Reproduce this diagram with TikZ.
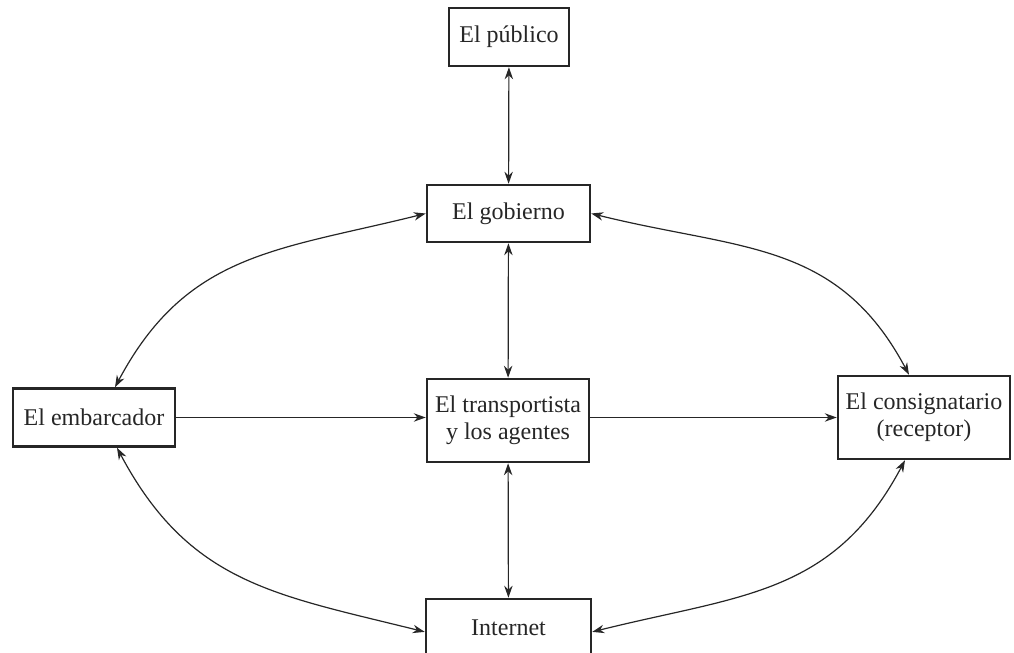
\documentclass[tikz,border=0pt]{standalone}
\usepackage{fontspec}
\setmainfont{Liberation Serif}
\usetikzlibrary{arrows.meta}
\usepackage{xcolor}

\begin{document}
\begin{tikzpicture}[x=0.5pt, y=0.5pt,
    box/.style={draw=black!85, line width=1.25pt, inner sep=0pt, align=center,
      font=\fontsize{12}{13.5}\selectfont, text=black!85},
    link/.style={draw=black!85, line width=0.6pt, -{Stealth[length=6pt, width=4.2pt]}},
    both/.style={link, {Stealth[length=6pt, width=4.2pt]}-{Stealth[length=6pt, width=4.2pt]}}]
  \useasboundingbox (0,0) rectangle (1014,653);

  % boxes
  \node[box, minimum width=60pt, minimum height=29pt] (pub) at (509,616) {El público};
  \node[box, minimum width=81.5pt, minimum height=28.5pt] (gob) at (508.5,439.5) {El gobierno};
  \node[box, minimum width=81pt, minimum height=29pt] (emb) at (94,235.5) {El embarcador};
  \node[box, minimum width=81pt, minimum height=41.5pt] (trans) at (508,232.5) {El transportista\\y los agentes};
  \node[box, minimum width=86pt, minimum height=41.5pt] (cons) at (924,235.5) {El consignatario\\(receptor)};
  \node[box, minimum width=82.5pt, minimum height=28.5pt] (inet) at (508.5,25.5) {Internet};

  % straight links
  \draw[both] (pub) -- (gob);
  \draw[both] (gob) -- (trans);
  \draw[both] (trans) -- (inet);
  \draw[link] (emb) -- (emb -| trans.west);
  \draw[link] (trans.east |- cons.west) -- (cons);

  % curved links round the outside
  \draw[both] ([xshift=10.5pt]emb.north) to[out=62, in=194, looseness=1.1] (gob.west);
  \draw[both] (gob.east) to[out=-14, in=118, looseness=1.1] ([xshift=-7.5pt]cons.north);
  \draw[both] ([xshift=11.5pt]emb.south) to[out=-62, in=166, looseness=1.1] ([yshift=-2.2pt]inet.west);
  \draw[both] ([xshift=-9.5pt]cons.south) to[out=242, in=14, looseness=1.1] ([yshift=-2.2pt]inet.east);
\end{tikzpicture}
\end{document}
